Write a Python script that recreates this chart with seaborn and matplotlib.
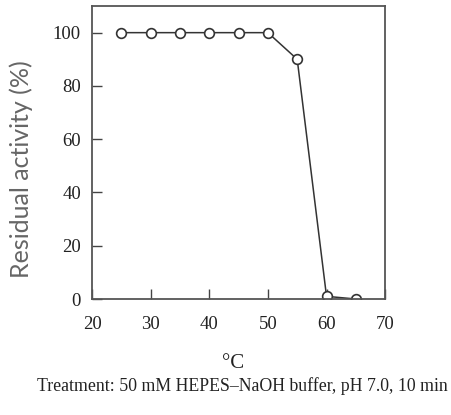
import pandas as pd
import seaborn as sns
import matplotlib.pyplot as plt

# Residual activity after heat treatment
temperature = [25, 30, 35, 40, 45, 50, 55, 60, 65]
residual_activity = [100, 100, 100, 100, 100, 100, 90, 1, 0]
x_ticks = [20, 30, 40, 50, 60, 70]
y_ticks = [0, 20, 40, 60, 80, 100]

df = pd.DataFrame({'temp': temperature, 'activity': residual_activity})

sns.set_style('ticks')
serif = ['Liberation Serif', 'DejaVu Serif']

fig = plt.figure(figsize=(4.51, 4.15), dpi=100)
ax = fig.add_axes([0.204, 0.2795, 0.650, 0.706])

sns.lineplot(data=df, x='temp', y='activity', ax=ax, color='#333333',
             linewidth=1.1, marker='o', markersize=7, markerfacecolor='white',
             markeredgecolor='#333333', markeredgewidth=1.2)

ax.set_xlim(20, 70)
ax.set_ylim(0, 110)
ax.set_xticks(x_ticks)
ax.set_yticks(y_ticks)
ax.tick_params(direction='in', length=7, width=1, color='#444444',
               labelsize=13.5, labelcolor='#222222', pad=8)
ax.tick_params(axis='x', pad=12)
for lab in ax.get_xticklabels() + ax.get_yticklabels():
    lab.set_family(serif)
for s in ax.spines.values():
    s.set_color('#555555')
    s.set_linewidth(1.3)

ax.set_xlabel('')
ax.set_ylabel('Residual activity (%)', family=['Lato', 'DejaVu Sans'],
              fontsize=18, color='#666666')
ax.yaxis.set_label_coords(-0.2, 0.445)
fig.text(0.517, 0.123, '°C', family=serif, fontsize=15, color='#222222',
         ha='center', va='center')
fig.text(0.537, 0.07, 'Treatment: 50 mM HEPES–NaOH buffer, pH 7.0, 10 min',
         family=serif, fontsize=12.8, color='#222222', ha='center', va='center')

fig.savefig('out.png', dpi=100)
plt.close(fig)
